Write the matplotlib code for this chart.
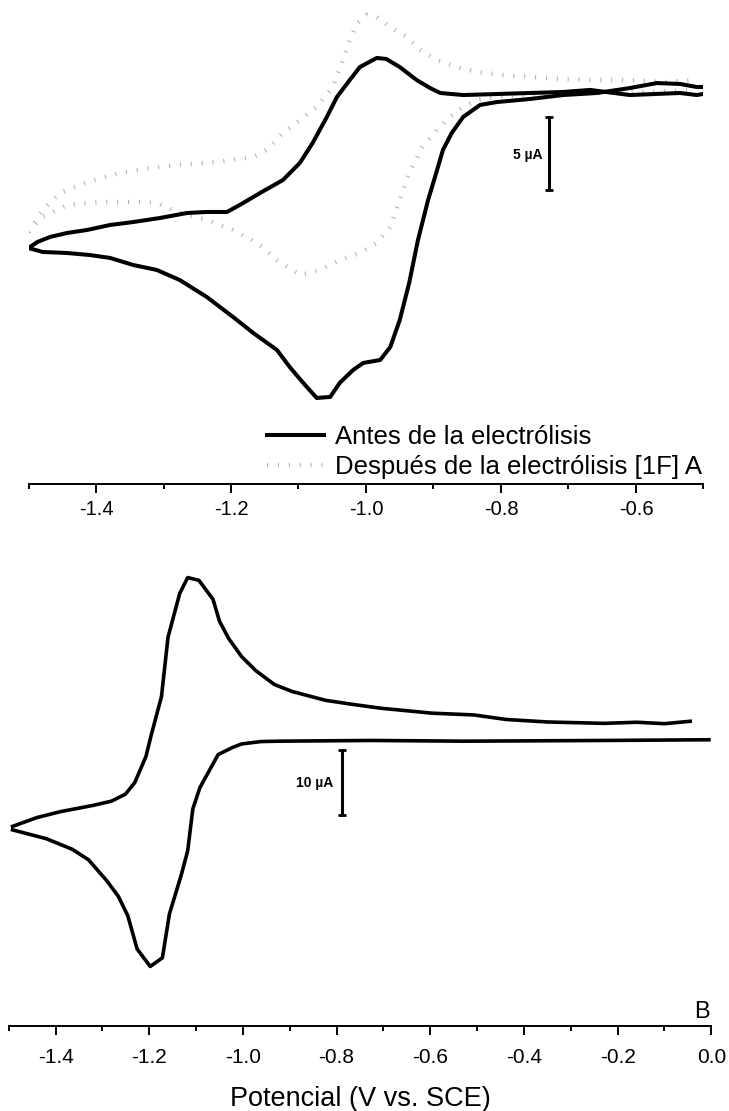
import numpy as np
import matplotlib
matplotlib.use('Agg')
from matplotlib import pyplot as plt
from matplotlib.ticker import MultipleLocator

plt.rcParams['font.family'] = ['Liberation Sans', 'DejaVu Sans']
plt.rcParams['axes.unicode_minus'] = False

# --- panel A: current in uA vs potential in V ---
antes_red_E = [-1.500, -1.479, -1.443, -1.409, -1.379, -1.345, -1.310, -1.276, -1.236, -1.197,
               -1.167, -1.132, -1.113, -1.093, -1.073, -1.053, -1.039, -1.019, -1.004, -0.979,
               -0.964, -0.950, -0.936, -0.923, -0.908, -0.896, -0.886, -0.873, -0.856, -0.831,
               -0.806, -0.757, -0.708, -0.658, -0.609, -0.569, -0.535, -0.510, -0.501]
antes_red_I = [-10.62, -10.89, -10.96, -11.10, -11.30, -11.78, -12.12, -12.81, -13.97, -15.34,
               -16.44, -17.60, -18.77, -19.86, -20.89, -20.82, -19.86, -18.97, -18.49, -18.29,
               -17.40, -15.55, -13.01, -10.07, -7.33, -5.48, -3.90, -2.74, -1.64, -0.82,
               -0.62, -0.41, -0.14, 0.00, 0.34, 0.68, 0.62, 0.41, 0.41]

antes_ox_E = [-1.500, -1.487, -1.468, -1.443, -1.413, -1.379, -1.345, -1.305, -1.265, -1.236,
              -1.206, -1.187, -1.157, -1.123, -1.098, -1.079, -1.058, -1.043, -1.024, -1.009,
              -0.984, -0.970, -0.950, -0.925, -0.905, -0.890, -0.856, -0.806, -0.757, -0.708,
              -0.668, -0.609, -0.535, -0.510, -0.501]
antes_ox_I = [-10.62, -10.21, -9.86, -9.59, -9.38, -9.04, -8.84, -8.56, -8.22, -8.15,
              -8.15, -7.67, -6.85, -5.96, -4.79, -3.42, -1.64, -0.27, 0.89, 1.78,
              2.40, 2.33, 1.78, 0.89, 0.34, 0.00, -0.14, -0.07, 0.00, 0.07,
              0.21, -0.14, 0.00, -0.14, -0.07]

despues_ox_E = [-1.500, -1.479, -1.453, -1.413, -1.364, -1.320, -1.280, -1.221, -1.167, -1.147,
                -1.123, -1.098, -1.073, -1.049, -1.034, -1.024, -1.013, -0.999, -0.984, -0.964,
                -0.939, -0.920, -0.895, -0.865, -0.836, -0.797, -0.757, -0.708, -0.658, -0.609,
                -0.560, -0.510]
despues_ox_I = [-9.52, -8.01, -6.85, -6.10, -5.48, -5.14, -4.93, -4.73, -4.38, -3.90,
                -2.74, -1.85, -0.96, 0.41, 2.26, 3.63, 4.79, 5.34, 5.21, 4.52,
                3.84, 2.95, 2.26, 1.78, 1.44, 1.23, 1.10, 0.96, 0.89, 0.89,
                0.75, 0.89]

despues_red_E = [-1.500, -1.479, -1.443, -1.394, -1.345, -1.310, -1.276, -1.236, -1.197, -1.161,
                 -1.132, -1.098, -1.068, -1.039, -1.009, -0.984, -0.964, -0.950, -0.936, -0.916,
                 -0.895, -0.876, -0.856, -0.836, -0.801, -0.727, -0.653, -0.580, -0.510]
despues_red_I = [-9.52, -8.49, -7.67, -7.47, -7.47, -7.53, -8.22, -8.70, -9.38, -10.27,
                 -11.44, -12.47, -12.12, -11.44, -10.96, -10.27, -9.18, -7.33, -5.48, -3.70,
                 -2.53, -1.64, -0.96, -0.48, -0.21, -0.07, 0.00, 0.07, 0.21]

# --- panel B ---
b_red_E = [-0.005, -0.228, -0.527, -0.725, -0.924, -0.962, -1.003, -1.023, -1.053, -1.092,
           -1.107, -1.118, -1.132, -1.157, -1.172, -1.198, -1.226, -1.246, -1.266, -1.291,
           -1.330, -1.365, -1.420, -1.492]
b_red_I = [0.11, 0.00, -0.11, 0.00, -0.11, -0.17, -0.54, -1.10, -2.18, -7.29,
           -10.55, -17.03, -20.82, -26.78, -33.54, -34.88, -32.18, -27.03, -24.07, -21.63,
           -18.40, -16.78, -15.16, -13.80]

b_ox_E = [-1.492, -1.440, -1.390, -1.320, -1.281, -1.251, -1.231, -1.207, -1.196, -1.174,
          -1.160, -1.135, -1.118, -1.094, -1.064, -1.050, -1.030, -1.003, -0.973, -0.933,
          -0.895, -0.824, -0.765, -0.705, -0.596, -0.507, -0.438, -0.349, -0.229, -0.159,
          -0.100, -0.045]
b_ox_I = [-13.26, -11.90, -10.99, -10.02, -9.37, -8.29, -6.50, -2.44, 0.80, 6.76,
          15.94, 22.70, 25.14, 24.71, 21.79, 18.38, 15.68, 12.96, 10.80, 8.64,
          7.56, 6.20, 5.56, 4.97, 4.21, 3.94, 3.24, 2.85, 2.64, 2.81,
          2.59, 2.96]

top_ticks = [-1.4, -1.2, -1.0, -0.8, -0.6]
top_labels = ['-1.4', '-1.2', '-1.0', '-0.8', '-0.6']
bot_ticks = [-1.4, -1.2, -1.0, -0.8, -0.6, -0.4, -0.2, 0.0]
bot_labels = ['-1.4', '-1.2', '-1.0', '-0.8', '-0.6', '-0.4', '-0.2', '0.0']

label_antes = 'Antes de la electrólisis'
label_despues = 'Después de la electrólisis [1F] A'

fig = plt.figure(figsize=(7.29, 11.11), dpi=100)
ax1 = fig.add_axes([0.0391, 0.5644, 0.9259, 0.4356])
ax2 = fig.add_axes([0.01207, 0.0765, 0.9636, 0.4374])

for ax in (ax1, ax2):
    for s in ('left', 'right', 'top'):
        ax.spines[s].set_visible(False)
    ax.spines['bottom'].set_linewidth(1.4)
    ax.set_yticks([])
    ax.tick_params(axis='x', which='major', direction='out', length=6.5, width=1.4)
    ax.tick_params(axis='x', which='minor', direction='out', length=3.6, width=1.4)
    ax.xaxis.set_minor_locator(MultipleLocator(0.1))

ax1.tick_params(axis='x', which='major', labelsize=14.5, pad=5)
ax2.tick_params(axis='x', which='major', labelsize=15, pad=9)

dot_style = dict(color='#b4b4b4', lw=3.2, linestyle=(0, (0.25, 2.2)), dash_capstyle='butt')

# panel A
ax1.plot(despues_ox_E, despues_ox_I, label=label_despues, **dot_style)
ax1.plot(despues_red_E, despues_red_I, **dot_style)
ax1.plot(antes_ox_E, antes_ox_I, color='black', lw=2.9, label=label_antes)
ax1.plot(antes_red_E, antes_red_I, color='black', lw=2.9)
ax1.set_xlim(-1.5, -0.5)
ax1.set_ylim(-26.78, 6.37)
ax1.set_xticks(top_ticks)
ax1.set_xticklabels(top_labels)

ax1.errorbar([-0.729], [-4.14], yerr=[2.5], color='black', lw=2.2, capsize=2.6, capthick=2.0)
ax1.text(-0.761, -4.25, '5 µA', fontsize=10, fontweight='bold', ha='center', va='center')

h, l = ax1.get_legend_handles_labels()
ax1.legend(h[::-1], l[::-1], loc='upper left', bbox_to_anchor=(0.3533, 0.121), frameon=False,
           fontsize=18.5, handlelength=2.2, handletextpad=0.45, labelspacing=0.2,
           borderpad=0, borderaxespad=0)

# panel B
ax2.plot(b_red_E, b_red_I, color='black', lw=2.6)
ax2.plot(b_ox_E, b_ox_I, color='black', lw=2.6)
ax2.set_xlim(-1.5, 0.0)
ax2.set_ylim(-44.07, 30.93)
ax2.set_xticks(bot_ticks)
ax2.set_xticklabels(bot_labels)
ax2.set_xlabel('Potencial (V vs. SCE)', fontsize=19.5, labelpad=14)

ax2.errorbar([-0.789], [-6.48], yerr=[5.0], color='black', lw=2.2, capsize=2.6, capthick=2.0)
ax2.text(-0.847, -6.57, '10 µA', fontsize=10, fontweight='bold', ha='center', va='center')
ax2.text(0.998, 0.0165, 'B', transform=ax2.transAxes, fontsize=17, ha='right', va='baseline')

fig.savefig('out.png', dpi=100)
